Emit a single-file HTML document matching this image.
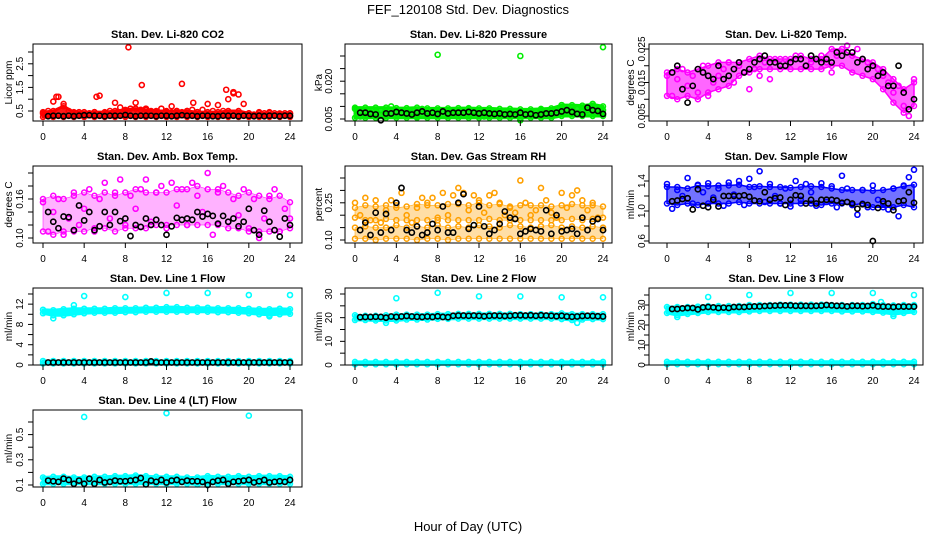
<!DOCTYPE html>
<html><head><meta charset="utf-8"><style>
body{margin:0;background:#fff}
svg{display:block;font-family:"Liberation Sans",sans-serif}
</style></head><body>
<svg id="c" width="936" height="540" xmlns="http://www.w3.org/2000/svg">
<text x="468" y="14" text-anchor="middle" font-size="13">FEF_120108  Std. Dev. Diagnostics</text>
<text x="468" y="531" text-anchor="middle" font-size="13">Hour of Day (UTC)</text>
</svg>
<script>
// ---------- data ----------
const xTicks=[0,4,8,12,16,20,24];
// CO2
const co2Lo=[0.25,0.25,0.25,0.25,0.25,0.25,0.25,0.25,0.25,0.25,0.25,0.25,0.25,0.25,0.25,0.25,0.25,0.25,0.25,0.25,0.25,0.25,0.25,0.25,0.25];
const co2Hi=[0.45,0.5,0.7,0.45,0.45,0.45,0.45,0.5,0.55,0.6,0.55,0.5,0.5,0.5,0.5,0.45,0.45,0.45,0.5,0.5,0.4,0.4,0.4,0.4,0.4];
const co2Scat=[0.4,0.5,0.9,1.1,0.8,0.5,0.4,0.45,0.35,0.4,0.45,1.15,0.4,0.5,0.85,0.65,0.5,0.6,0.85,0.55,0.6,0.5,0.45,0.6,0.45,0.7,0.5,0.45,0.5,0.55,0.45,0.55,0.8,0.5,0.75,0.5,1.0,1.3,1.2,0.8,0.4,0.35,0.45,0.4,0.45,0.4,0.35,0.4,0.4];
const co2OutX=[8.3,9.6,13.5,17.8,18.5,1.3,5.2,14.6];
const co2OutY=[3.2,1.6,1.65,1.4,1.25,1.1,1.1,0.85];
const co2Black=[0.28,0.3,0.3,0.28,0.3,0.28,0.3,0.32,0.32,0.3,0.3,0.28,0.3,0.3,0.3,0.33,0.3,0.28,0.3,0.3,0.3,0.28,0.3,0.3,0.28,0.3,0.32,0.3,0.3,0.28,0.3,0.3,0.28,0.28,0.3,0.3,0.3,0.28,0.3,0.3,0.28,0.3,0.28,0.3,0.3,0.28,0.3,0.3];
// Pressure
const prLo=[0.0055,0.0055,0.0055,0.0055,0.0055,0.0055,0.0055,0.0055,0.0055,0.0055,0.0055,0.0055,0.0055,0.0055,0.0055,0.0055,0.0055,0.0055,0.0055,0.0055,0.0062,0.0062,0.0062,0.0062,0.0062];
const prHi=[0.0095,0.0095,0.0095,0.0095,0.0093,0.0093,0.0095,0.0092,0.0092,0.0092,0.0093,0.0093,0.0092,0.0092,0.009,0.009,0.0088,0.0088,0.009,0.0092,0.0105,0.0105,0.0103,0.0108,0.01];
const prScat=[0.009,0.006,0.008,0.0075,0.007,0.0085,0.0065,0.01,0.008,0.007,0.0085,0.0075,0.006,0.009,0.008,0.0075,0.0065,0.008,0.0085,0.007,0.008,0.0075,0.009,0.008,0.007,0.006,0.0085,0.0075,0.008,0.007,0.0065,0.008,0.0045,0.007,0.0075,0.008,0.0085,0.007,0.008,0.0085,0.0105,0.009,0.0095,0.009,0.008,0.0085,0.011,0.009,0.0085];
const prOutX=[8,16,24];
const prOutY=[0.0305,0.030,0.0335];
const prBlack=[0.0075,0.0075,0.007,0.0068,0.0045,0.0072,0.0072,0.0078,0.0075,0.0072,0.0068,0.0075,0.008,0.0072,0.0075,0.007,0.008,0.0072,0.0075,0.0075,0.0075,0.0078,0.0075,0.0072,0.0075,0.0072,0.007,0.0072,0.0068,0.007,0.0068,0.0075,0.0068,0.007,0.0065,0.0068,0.0072,0.0072,0.0075,0.008,0.0085,0.0078,0.007,0.0068,0.0095,0.0085,0.0082,0.007];
// Li-820 Temp
const tmLo=[0.011,0.010,0.011,0.010,0.012,0.013,0.014,0.017,0.018,0.019,0.019,0.019,0.019,0.019,0.019,0.019,0.020,0.020,0.018,0.017,0.016,0.013,0.009,0.006,0.008];
const tmHi=[0.018,0.019,0.018,0.019,0.020,0.021,0.021,0.021,0.022,0.023,0.022,0.022,0.022,0.023,0.022,0.022,0.025,0.025,0.023,0.022,0.021,0.019,0.016,0.013,0.015];
const tmScat=[0.017,0.011,0.016,0.019,0.014,0.017,0.012,0.02,0.011,0.015,0.017,0.019,0.021,0.015,0.02,0.018,0.013,0.019,0.017,0.021,0.016,0.022,0.02,0.022,0.021,0.023,0.022,0.020,0.021,0.022,0.023,0.021,0.018,0.023,0.025,0.026,0.024,0.025,0.022,0.021,0.020,0.019,0.017,0.015,0.012,0.014,0.008,0.005,0.016];
const tmBlack=[0.018,0.020,0.013,0.009,0.014,0.019,0.018,0.017,0.016,0.020,0.016,0.017,0.019,0.021,0.018,0.019,0.021,0.022,0.023,0.021,0.021,0.020,0.020,0.021,0.022,0.022,0.020,0.023,0.022,0.021,0.022,0.021,0.024,0.023,0.024,0.024,0.021,0.022,0.019,0.020,0.017,0.018,0.014,0.014,0.020,0.012,0.007,0.010];
// Amb box temp
const abLo=[0.11,0.105,0.11,0.11,0.11,0.115,0.115,0.11,0.115,0.115,0.115,0.12,0.12,0.12,0.12,0.12,0.12,0.12,0.115,0.115,0.11,0.11,0.11,0.11,0.115];
const abHi=[0.16,0.165,0.16,0.165,0.17,0.165,0.17,0.165,0.17,0.175,0.17,0.17,0.17,0.175,0.175,0.18,0.175,0.175,0.17,0.165,0.17,0.165,0.16,0.165,0.155];
const abScat=[0.155,0.11,0.14,0.16,0.105,0.13,0.17,0.12,0.145,0.175,0.11,0.16,0.185,0.13,0.17,0.19,0.12,0.165,0.145,0.175,0.19,0.125,0.17,0.18,0.115,0.185,0.15,0.175,0.12,0.185,0.165,0.14,0.2,0.105,0.17,0.18,0.125,0.16,0.135,0.175,0.115,0.16,0.1,0.13,0.165,0.175,0.11,0.145,0.13];
const abBlack=[0.14,0.125,0.115,0.133,0.132,0.112,0.15,0.127,0.14,0.112,0.118,0.14,0.12,0.14,0.126,0.13,0.103,0.12,0.117,0.13,0.12,0.128,0.12,0.105,0.118,0.131,0.128,0.13,0.128,0.14,0.133,0.137,0.134,0.122,0.134,0.125,0.13,0.118,0.125,0.145,0.112,0.105,0.142,0.125,0.112,0.102,0.13,0.12];
// Gas stream RH
const rhLo=[0.105,0.105,0.1,0.105,0.105,0.105,0.1,0.105,0.105,0.1,0.105,0.105,0.105,0.105,0.105,0.105,0.105,0.105,0.105,0.105,0.105,0.105,0.105,0.105,0.105];
const rhHi=[0.15,0.155,0.15,0.15,0.16,0.15,0.155,0.15,0.16,0.15,0.155,0.15,0.16,0.155,0.15,0.16,0.155,0.15,0.155,0.16,0.15,0.155,0.15,0.155,0.15];
const rh2Lo=[0.19,0.18,0.18,0.185,0.18,0.18,0.18,0.18,0.19,0.18,0.18,0.18,0.18,0.185,0.18,0.18,0.18,0.18,0.18,0.18,0.18,0.185,0.18,0.185,0.19];
const rh2Hi=[0.23,0.24,0.235,0.24,0.23,0.235,0.245,0.24,0.24,0.245,0.245,0.24,0.25,0.24,0.245,0.235,0.24,0.24,0.24,0.235,0.24,0.245,0.24,0.24,0.235];
const rhScat=[0.25,0.2,0.27,0.18,0.26,0.17,0.22,0.26,0.24,0.29,0.2,0.17,0.23,0.27,0.25,0.27,0.18,0.29,0.2,0.28,0.31,0.29,0.22,0.28,0.26,0.21,0.28,0.29,0.25,0.2,0.23,0.21,0.34,0.25,0.2,0.22,0.31,0.26,0.21,0.19,0.29,0.23,0.28,0.3,0.26,0.22,0.25,0.19,0.14];
const rhBlack=[0.14,0.17,0.12,0.21,0.13,0.205,0.14,0.25,0.31,0.14,0.13,0.155,0.12,0.13,0.165,0.14,0.235,0.13,0.13,0.25,0.285,0.145,0.16,0.235,0.155,0.125,0.14,0.165,0.215,0.19,0.185,0.125,0.135,0.145,0.14,0.135,0.22,0.125,0.2,0.135,0.14,0.145,0.125,0.19,0.14,0.175,0.185,0.14];
// Sample flow
const sfLo=[1.1,1.08,1.1,1.08,1.1,1.1,1.1,1.12,1.1,1.1,1.1,1.1,1.1,1.1,1.1,1.08,1.1,1.1,1.08,1.1,1.05,1.05,1.05,1.08,1.05];
const sfHi=[1.32,1.32,1.3,1.34,1.33,1.34,1.34,1.35,1.32,1.33,1.32,1.32,1.31,1.32,1.33,1.32,1.3,1.28,1.28,1.28,1.27,1.28,1.3,1.33,1.35];
const sfScat=[1.36,1.03,1.28,1.2,1.44,1.1,1.35,1.25,1.37,1.18,1.3,1.07,1.38,1.22,1.4,1.08,1.43,1.32,1.53,1.12,1.36,1.2,1.1,1.3,1.06,1.4,1.15,1.36,1.25,1.07,1.37,1.12,1.33,1.05,1.47,1.3,1.08,0.95,1.28,1.05,1.34,1.15,1.1,1.02,1.3,0.93,1.34,1.45,1.55];
const sfBlack=[1.13,1.14,1.16,1.17,1.02,1.29,1.07,1.05,1.15,1.06,1.2,1.2,1.2,1.2,1.21,1.19,1.14,1.13,1.25,1.15,1.17,1.18,1.08,1.15,1.21,1.2,1.1,1.15,1.1,1.15,1.15,1.15,1.14,1.11,1.12,1.1,1.03,1.09,1.08,0.6,1.04,1.13,1.1,1.01,1.13,1.14,1.25,1.11];
// Line 1
const l1Lo=[10.2,9.8,9.8,10.0,10.2,10.3,10.3,10.3,10.4,10.4,10.5,10.5,10.5,10.5,10.5,10.5,10.5,10.4,10.4,10.3,10.2,10.0,9.9,10.0,10.1];
const l1Hi=[10.9,10.8,11.0,11.1,11.1,11.1,11.1,11.2,11.2,11.2,11.3,11.3,11.4,11.4,11.3,11.3,11.3,11.2,11.2,11.2,11.1,11.0,11.0,11.1,11.0];
const l1Lo2=[0.3,0.3,0.3,0.3,0.3,0.3,0.3,0.3,0.3,0.3,0.3,0.3,0.3,0.3,0.3,0.3,0.3,0.3,0.3,0.3,0.3,0.3,0.3,0.3,0.3];
const l1Hi2=[0.8,0.8,0.8,0.8,0.8,0.8,0.8,0.8,0.8,0.8,0.8,0.8,0.8,0.8,0.8,0.8,0.8,0.8,0.8,0.8,0.8,0.8,0.8,0.8,0.8];
const l1OutX=[1.0,3.0,4,8,12,16,20,24,22];
const l1OutY=[9.2,11.8,13.6,13.4,14.2,14.2,13.8,13.8,9.6];
const l1Black=[0.5,0.5,0.5,0.5,0.5,0.5,0.5,0.5,0.5,0.5,0.5,0.5,0.5,0.5,0.5,0.5,0.5,0.5,0.5,0.5,0.7,0.5,0.5,0.5,0.5,0.5,0.5,0.5,0.5,0.5,0.5,0.5,0.5,0.5,0.5,0.5,0.5,0.5,0.5,0.5,0.5,0.5,0.5,0.5,0.5,0.5,0.5,0.5];
// Line 2
const l2Lo=[19.0,19.0,18.8,18.8,18.8,19.2,19.2,19.2,19.5,19.5,19.6,19.6,19.6,19.6,19.6,19.6,19.6,19.6,19.6,19.6,19.4,19.0,19.2,19.4,19.4];
const l2Hi=[21.0,20.8,20.8,21.0,21.3,21.3,21.3,21.3,21.5,21.5,21.6,21.6,21.6,21.6,21.6,21.6,21.5,21.5,21.5,21.5,21.8,21.5,21.5,21.5,21.5];
const l2Lo2=[0.3,0.3,0.3,0.3,0.3,0.3,0.3,0.3,0.3,0.3,0.3,0.3,0.3,0.3,0.3,0.3,0.3,0.3,0.3,0.3,0.3,0.3,0.3,0.3,0.3];
const l2Hi2=[1.3,1.3,1.3,1.3,1.3,1.3,1.3,1.3,1.3,1.3,1.3,1.3,1.3,1.3,1.3,1.3,1.3,1.3,1.3,1.3,1.3,1.3,1.3,1.3,1.3];
const l2OutX=[3.0,4,8,12,16,20,24,21.5];
const l2OutY=[17.8,28.2,30.5,29.0,29.0,28.6,28.6,17.8];
const l2Black=[20.2,20.3,20.3,20.4,20.3,20.0,20.5,20.3,20.5,20.7,20.5,20.4,20.3,20.5,20.3,20.6,20.3,20.2,20.8,20.9,20.9,20.8,20.9,20.8,20.6,20.8,20.9,20.8,20.7,20.8,21.0,21.0,20.9,21.0,20.8,21.0,20.9,20.8,20.6,20.8,20.5,20.4,20.5,20.7,20.8,20.7,20.6,20.5];
// Line 3
const l3Lo=[26.0,25.0,25.5,26.0,26.5,26.5,26.5,26.5,26.8,27.0,27.0,27.0,27.0,27.0,27.0,27.0,27.0,26.8,26.8,26.8,26.5,26.2,25.5,26.0,26.5];
const l3Hi=[29.0,29.0,29.0,29.2,29.5,29.5,29.5,29.5,30.0,30.0,30.0,30.2,30.2,30.2,30.2,30.2,30.0,30.0,30.0,30.0,30.5,30.0,29.8,30.0,30.0];
const l3Lo2=[0.4,0.4,0.4,0.4,0.4,0.4,0.4,0.4,0.4,0.4,0.4,0.4,0.4,0.4,0.4,0.4,0.4,0.4,0.4,0.4,0.4,0.4,0.4,0.4,0.4];
const l3Hi2=[1.6,1.6,1.6,1.6,1.6,1.6,1.6,1.6,1.6,1.6,1.6,1.6,1.6,1.6,1.6,1.6,1.6,1.6,1.6,1.6,1.6,1.6,1.6,1.6,1.6];
const l3OutX=[1.0,4,8,12,16,20,24,20.8,22];
const l3OutY=[24.0,34.0,35.0,36.0,36.0,36.0,35.0,31.5,24.5];
const l3Black=[28.0,28.0,28.3,28.5,28.5,27.8,28.8,29.0,28.8,28.5,28.7,28.5,29.0,29.0,29.0,29.2,29.3,29.3,29.5,29.6,29.7,29.8,29.8,29.8,29.6,29.6,29.6,29.5,29.6,29.7,30.0,29.8,29.6,29.6,29.3,29.6,29.6,29.4,29.5,29.8,29.3,29.2,29.2,29.0,29.2,29.2,29.2,29.2];
// Line 4
const l4Lo=[0.11,0.11,0.11,0.11,0.11,0.11,0.11,0.11,0.11,0.11,0.11,0.11,0.11,0.11,0.11,0.105,0.11,0.11,0.11,0.11,0.11,0.11,0.11,0.11,0.11];
const l4Hi=[0.16,0.165,0.165,0.16,0.16,0.165,0.165,0.17,0.17,0.175,0.17,0.165,0.165,0.165,0.16,0.16,0.17,0.165,0.165,0.17,0.165,0.17,0.17,0.17,0.165];
const l4OutX=[4,12,20];
const l4OutY=[0.64,0.67,0.65];
const l4Black=[0.135,0.13,0.125,0.15,0.14,0.11,0.135,0.11,0.15,0.11,0.14,0.12,0.125,0.135,0.13,0.13,0.135,0.14,0.155,0.105,0.135,0.125,0.14,0.12,0.135,0.14,0.125,0.135,0.13,0.13,0.125,0.1,0.125,0.135,0.14,0.11,0.125,0.13,0.135,0.14,0.12,0.13,0.14,0.12,0.125,0.13,0.125,0.14];

// ---------- layout / rendering ----------
const NS='http://www.w3.org/2000/svg';
const svg=document.getElementById('c');
const cols=[{l:33,r:302,x0:43,x24:290,ylab:12,tlab:23},{l:345,r:612,x0:355,x24:603,ylab:322,tlab:332},{l:649,r:923,x0:667,x24:914,ylab:634,tlab:645}];
const rowTop=[44,166,288,410], BH=77;
function mk(tag,attrs,parent){const e=document.createElementNS(NS,tag);for(const k in attrs)e.setAttribute(k,attrs[k]);(parent||svg).appendChild(e);return e;}

const panels=[
 {name:'co2',title:'Stan. Dev. Li-820 CO2',ylab:'Licor ppm',col:0,row:0,color:'#f00',v1:0.5,p1:111,v2:3.0,p2:52,ticks:[0.5,1,1.5,2,2.5,3],labels:['0.5','1.5','2.5'],bands:[[co2Lo,co2Hi]],scat:co2Scat,outX:co2OutX,outY:co2OutY,black:co2Black,op:0.9,sw:3},
 {name:'pressure',title:'Stan. Dev. Li-820 Pressure',ylab:'kPa',col:1,row:0,color:'#0e0',v1:0.005,p1:119,v2:0.030,p2:56,ticks:[0.005,0.01,0.015,0.02,0.025,0.03],labels:['0.005','0.020'],bands:[[prLo,prHi]],scat:prScat,outX:prOutX,outY:prOutY,black:prBlack,op:0.9,sw:3},
 {name:'li820-temp',title:'Stan. Dev. Li-820 Temp.',ylab:'degrees C',col:2,row:0,color:'#f0f',v1:0.005,p1:116,v2:0.025,p2:49,ticks:[0.005,0.01,0.015,0.02,0.025],labels:['0.005','0.015','0.025'],bands:[[tmLo,tmHi]],scat:tmScat,outX:[],outY:[],black:tmBlack,op:0.6,sw:1.5},
 {name:'amb-box-temp',title:'Stan. Dev. Amb. Box Temp.',ylab:'degrees C',col:0,row:1,color:'#f0f',v1:0.10,p1:238,v2:0.20,p2:173,ticks:[0.1,0.12,0.14,0.16,0.18,0.2],labels:['0.10','0.16'],bands:[[abLo,abHi]],scat:abScat,outX:[],outY:[],black:abBlack,op:0.3,sw:0.5},
 {name:'gas-rh',title:'Stan. Dev. Gas Stream RH',ylab:'percent',col:1,row:1,color:'#ffa000',v1:0.10,p1:240,v2:0.35,p2:178,ticks:[0.1,0.15,0.2,0.25,0.3,0.35],labels:['0.10','0.25'],bands:[[rhLo,rhHi],[rh2Lo,rh2Hi]],scat:rhScat,outX:[],outY:[],black:rhBlack,op:0.35,sw:0.5},
 {name:'sample-flow',title:'Stan. Dev. Sample Flow',ylab:'ml/min',col:2,row:1,color:'#00f',v1:0.6,p1:241,v2:1.4,p2:181,ticks:[0.6,0.8,1.0,1.2,1.4],labels:['0.6','1.0','1.4'],bands:[[sfLo,sfHi]],scat:sfScat,outX:[],outY:[],black:sfBlack,op:0.55,sw:1.5},
 {name:'line1-flow',title:'Stan. Dev. Line 1 Flow',ylab:'ml/min',col:0,row:2,color:'#0ff',v1:0,p1:365,v2:14,p2:294,ticks:[0,2,4,6,8,10,12,14],labels:['0','4','8','12'],bands:[[l1Lo,l1Hi],[l1Lo2,l1Hi2]],scat:null,outX:l1OutX,outY:l1OutY,black:l1Black,op:1,sw:3},
 {name:'line2-flow',title:'Stan. Dev. Line 2 Flow',ylab:'ml/min',col:1,row:2,color:'#0ff',v1:0,p1:365,v2:30,p2:294,ticks:[0,5,10,15,20,25,30],labels:['0','10','20','30'],bands:[[l2Lo,l2Hi],[l2Lo2,l2Hi2]],scat:null,outX:l2OutX,outY:l2OutY,black:l2Black,op:1,sw:3},
 {name:'line3-flow',title:'Stan. Dev. Line 3 Flow',ylab:'ml/min',col:2,row:2,color:'#0ff',v1:0,p1:365,v2:35,p2:295,ticks:[0,5,10,15,20,25,30,35],labels:['0','10','20','30'],bands:[[l3Lo,l3Hi],[l3Lo2,l3Hi2]],scat:null,outX:l3OutX,outY:l3OutY,black:l3Black,op:1,sw:3},
 {name:'line4-flow',title:'Stan. Dev. Line 4 (LT) Flow',ylab:'ml/min',col:0,row:3,color:'#0ff',v1:0.1,p1:485,v2:0.6,p2:422,ticks:[0.1,0.2,0.3,0.4,0.5,0.6],labels:['0.1','0.3','0.5'],bands:[[l4Lo,l4Hi]],scat:null,outX:l4OutX,outY:l4OutY,black:l4Black,op:1,sw:3}
];

panels.forEach(p=>{
 const c=cols[p.col], top=rowTop[p.row], bot=top+BH;
 const X=h=>c.x0+(c.x24-c.x0)*h/24;
 const Y=v=>p.p1+(v-p.v1)*(p.p2-p.p1)/(p.v2-p.v1);
 const g=mk('g',{});
 
 
 const t=mk('text',{x:(c.l+c.r)/2,y:top-6,'text-anchor':'middle','font-size':'11','font-weight':'bold'},g);
 t.textContent=p.title;
 
 
 const yl=mk('text',{x:0,y:0,transform:`translate(${c.ylab},${top+BH/2}) rotate(-90)`,'text-anchor':'middle','font-size':'10'},g);
 yl.textContent=p.ylab;
 
 
 const data=mk('g',{},g);
 
 
 p.bands.forEach(b=>{
  const lo=b[0],hi=b[1];
  let pts=[];
  hi.forEach((v,i)=>pts.push(X(i)+','+Y(v)));
  for(let i=lo.length-1;i>=0;i--)pts.push(X(i)+','+Y(lo[i]));
  const pg=mk('polygon',{points:pts.join(' '),fill:p.color,'fill-opacity':p.op,stroke:p.color,'stroke-width':p.sw,'stroke-linejoin':'round'},data);
  
  
  hi.forEach((v,i)=>{
   [v,lo[i]].forEach(val=>{
    const ci=mk('circle',{cx:X(i),cy:Y(val),r:2.5,fill:'none',stroke:p.color,'stroke-width':1.5},data);
    
    
   });
  });
 });
 if(p.scat){p.scat.forEach((v,i)=>{
  const ci=mk('circle',{cx:X(i*0.5),cy:Y(v),r:2.5,fill:'none',stroke:p.color,'stroke-width':1.6},data);
  
  
 });}
 p.outX.forEach((h,i)=>{
  const ci=mk('circle',{cx:X(h),cy:Y(p.outY[i]),r:2.5,fill:'none',stroke:p.color,'stroke-width':1.6},data);
  
  
 });
 p.black.forEach((v,i)=>{
  const ci=mk('circle',{cx:X(0.5+i*0.5),cy:Y(v),r:2.6,fill:'none',stroke:'#000','stroke-width':1.6},data);
  
  
 });
 const bx=mk('rect',{x:c.l,y:top,width:c.r-c.l,height:BH,fill:'none',stroke:'#000','stroke-width':1},g);
 
 
 const xa=mk('g',{},g);
 
 
 mk('line',{x1:X(0),x2:X(24),y1:bot,y2:bot,stroke:'#000'},xa);
 xTicks.forEach(h=>{
  mk('line',{x1:X(h),x2:X(h),y1:bot,y2:bot+5,stroke:'#000'},xa);
  const tl=mk('text',{x:X(h),y:bot+19,'text-anchor':'middle','font-size':'10'},xa);
  tl.textContent=h;
  
  
 });
 const ya=mk('g',{},g);
 
 
 mk('line',{x1:c.l,x2:c.l,y1:Y(p.ticks[0]),y2:Y(p.ticks[p.ticks.length-1]),stroke:'#000'},ya);
 p.ticks.forEach(v=>{
  mk('line',{x1:c.l-5,x2:c.l,y1:Y(v),y2:Y(v),stroke:'#000'},ya);
 });
 p.labels.forEach(s=>{
  const v=parseFloat(s);
  const tl=mk('text',{x:0,y:0,transform:`translate(${c.tlab},${Y(v)}) rotate(-90)`,'text-anchor':'middle','font-size':'10'},ya);
  tl.textContent=s;
  
  
 });
});
</script>
</body></html>
